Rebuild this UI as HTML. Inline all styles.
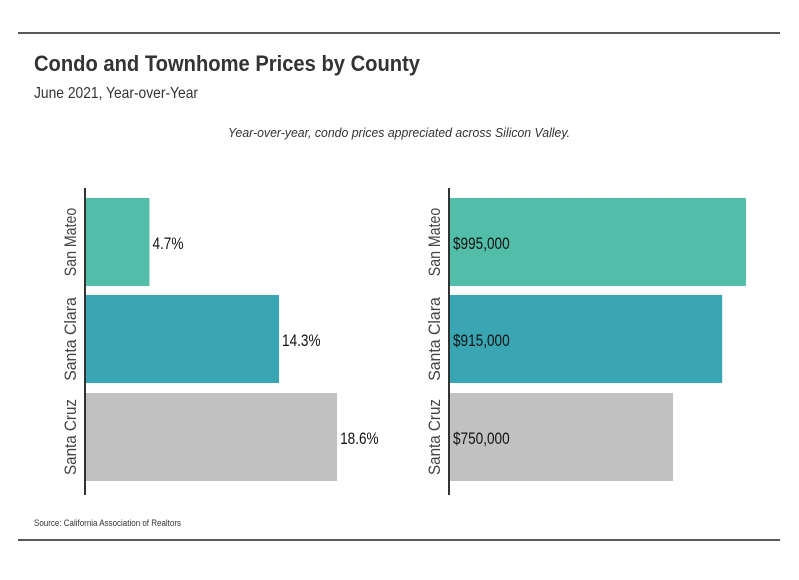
<!DOCTYPE html>
<html><head><meta charset="utf-8"><style>
body{margin:0;background:#fff;width:799px;height:575px;overflow:hidden;font-family:"Liberation Sans",sans-serif}
</style></head><body>
<svg width="799" height="575" viewBox="0 0 799 575" style="font-family:'Liberation Sans',sans-serif">
<line x1="18" y1="33" x2="780" y2="33" stroke="#222" stroke-width="1.5"/>
<line x1="18" y1="540" x2="780" y2="540" stroke="#222" stroke-width="1.5"/>
<text x="34" y="71" font-size="22" font-weight="bold" fill="#333" textLength="386" lengthAdjust="spacingAndGlyphs">Condo and Townhome Prices by County</text>
<text x="34" y="98" font-size="16" fill="#333" textLength="164" lengthAdjust="spacingAndGlyphs">June 2021, Year-over-Year</text>
<text x="399" y="137" font-size="13" font-style="italic" fill="#333" text-anchor="middle" textLength="342" lengthAdjust="spacingAndGlyphs">Year-over-year, condo prices appreciated across Silicon Valley.</text>
<text x="34" y="526" font-size="9" fill="#333" textLength="147" lengthAdjust="spacingAndGlyphs">Source:  California Association of Realtors</text>
<g id="bars"></g>
</svg>
<script>
const categories=["San Mateo","Santa Clara","Santa Cruz"];
const pctValues=[4.7,14.3,18.6];
const pctLabels=["4.7%","14.3%","18.6%"];
const priceValues=[995000,915000,750000];
const priceLabels=["$995,000","$915,000","$750,000"];
const colors=["#52bea9","#3aa6b4","#c1c1c1"];
const NS="http://www.w3.org/2000/svg";
const g=document.getElementById('bars');
const barTops=[198,295,393],barH=88;
function xPct(v){return 86+v*13.5;}
function xPrice(v){return 450+v*0.0002975;}
function mk(t,a){const e=document.createElementNS(NS,t);for(const k in a)e.setAttribute(k,a[k]);g.appendChild(e);return e;}
function panel(x0,scale,vals,labels,prefix,inside){
  categories.forEach((c,i)=>{
    const y=barTops[i],x1=scale(vals[i]);
    const r=mk('rect',{x:x0,y:y,width:x1-x0,height:barH,fill:colors[i]});
    
    
    const tx=inside?x0+3:x1+3;
    const t=mk('text',{x:tx,y:y+barH/2+7,'font-size':17,fill:'#111'});
    t.textContent=labels[i];
    
    
    t.setAttribute('transform','translate('+tx+' 0) scale(0.8 1) translate('+(-tx)+' 0)');
    const cy=y+barH/2,cx=x0-16;
    const l=mk('text',{x:cx,y:cy+6,'font-size':17,fill:'#444','text-anchor':'middle',transform:'rotate(-90 '+cx+' '+cy+')'});
    l.textContent=c;
    
    
    l.setAttribute('textLength',c.length*7.6);
    l.setAttribute('lengthAdjust','spacingAndGlyphs');
  });
  const ax=mk('line',{x1:x0-1,y1:188,x2:x0-1,y2:495,stroke:'#333','stroke-width':2});
  
  
}
panel(86,xPct,pctValues,pctLabels,'pct',false);
panel(450,xPrice,priceValues,priceLabels,'price',true);
</script>
</body></html>
